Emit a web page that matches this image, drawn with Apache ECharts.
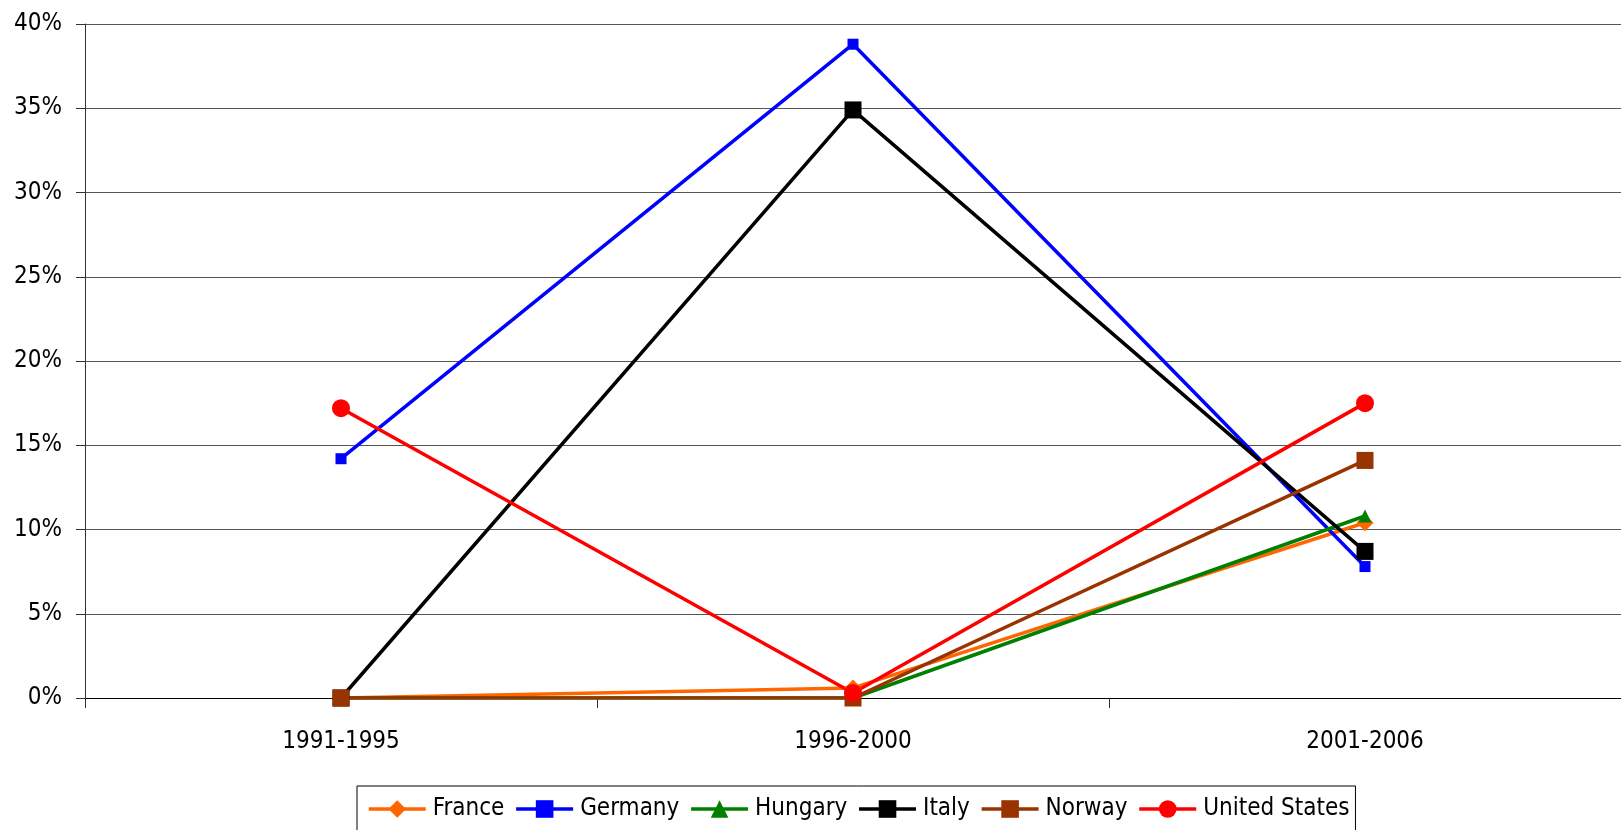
<!DOCTYPE html>
<html>
<head>
<meta charset="utf-8">
<style>
  html, body { margin: 0; padding: 0; background: #fff; }
  #chart { width: 1621px; height: 830px; }
</style>
<script src="https://cdn.jsdelivr.net/npm/echarts@6/dist/echarts.min.js"></script>
</head>
<body>
<div id="chart"></div>
<script>
// Periods on the category axis
const periods = ['1991-1995', '1996-2000', '2001-2006'];

// Share per period, in percent
const france       = [0, 0.6, 10.4];
const germany      = [14.2, 38.8, 7.8];
const hungary      = [0, 0, 10.8];
const italy        = [0, 34.9, 8.7];
const norway       = [0, 0, 14.1];
const unitedStates = [17.2, 0.3, 17.5];

// Value axis ticks
const yTicks = [0, 5, 10, 15, 20, 25, 30, 35, 40];

const FONT = "'Liberation Sans Narrow', 'DejaVu Sans Condensed', 'Arial Narrow', sans-serif";

function line(name, data, color, symbol, size) {
  return {
    name: name,
    type: 'line',
    data: data,
    symbol: symbol,
    symbolSize: size,
    showSymbol: true,
    lineStyle: { color: color, width: 3.5 },
    itemStyle: { color: color, borderWidth: 0 },
    emphasis: { disabled: true },
    animation: false
  };
}

const chart = echarts.init(document.getElementById('chart'), null, { renderer: 'canvas' });
chart.setOption({
  backgroundColor: '#ffffff',
  animation: false,
  textStyle: { fontFamily: FONT, color: '#000' },
  grid: { left: 85, right: 0, top: 24, bottom: 132, containLabel: false },
  xAxis: {
    type: 'category',
    data: periods,
    boundaryGap: true,
    axisLine: { show: true, lineStyle: { color: '#000', width: 1 } },
    axisTick: { show: true, inside: false, length: 10, alignWithLabel: false, lineStyle: { color: '#333' } },
    axisLabel: { fontFamily: FONT, fontSize: 24, color: '#000', margin: 32 },
    splitLine: { show: false }
  },
  yAxis: {
    type: 'value',
    min: yTicks[0],
    max: yTicks[yTicks.length - 1],
    interval: yTicks[1] - yTicks[0],
    axisLine: { show: true, lineStyle: { color: '#333', width: 1 } },
    axisTick: { show: true, inside: false, length: 9, lineStyle: { color: '#333' } },
    axisLabel: { fontFamily: FONT, fontSize: 24, color: '#000', margin: 23, formatter: '{value}%' },
    splitLine: { show: true, lineStyle: { color: '#555', width: 1 } }
  },
  legend: {
    data: ['France', 'Germany', 'Hungary', 'Italy', 'Norway', 'United States'],
    left: 357,
    top: 786,
    orient: 'horizontal',
    itemWidth: 57,
    itemHeight: 22,
    itemGap: 10,
    padding: [11, 6, 20, 10],
    borderColor: '#000',
    borderWidth: 1,
    backgroundColor: '#fff',
    lineStyle: { width: 3.5 },
    textStyle: { fontFamily: FONT, fontSize: 24, color: '#000', padding: [0, 0, 0, 2] }
  },
  series: [
    line('France', france, '#FF6600', 'diamond', 17),
    line('Germany', germany, '#0000FF', 'rect', 11),
    line('Hungary', hungary, '#008000', 'triangle', 13),
    line('Italy', italy, '#000000', 'rect', 17),
    line('Norway', norway, '#993300', 'rect', 17),
    line('United States', unitedStates, '#FF0000', 'circle', 18)
  ]
});
</script>
</body>
</html>
